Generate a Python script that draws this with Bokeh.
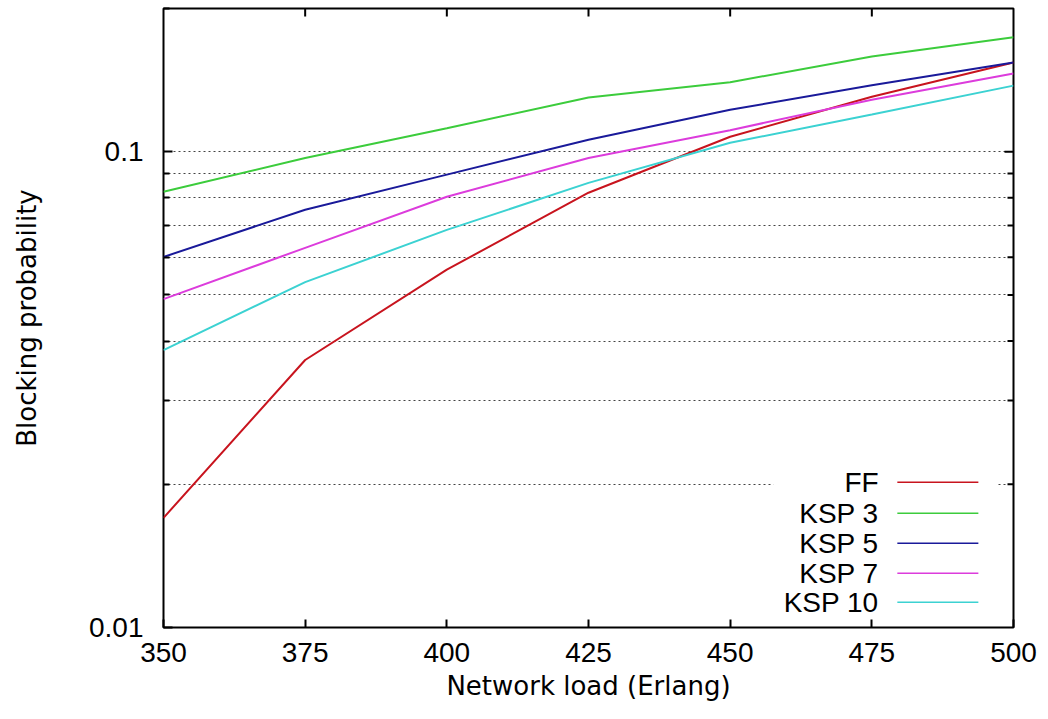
import math
from bokeh.plotting import figure
from bokeh.models import (FixedTicker, BoxAnnotation, Label, Range1d, ColumnDataSource)
from bokeh.embed import file_html
from bokeh.resources import INLINE

# ---- data ----
load = [350, 375, 400, 425, 450, 475, 500]
ff = [0.0170, 0.0365, 0.0565, 0.082, 0.1075, 0.1305, 0.154]
ksp3 = [0.0824, 0.097, 0.112, 0.130, 0.140, 0.1585, 0.174]
ksp5 = [0.0601, 0.0755, 0.0895, 0.106, 0.1225, 0.138, 0.154]
ksp7 = [0.049, 0.0628, 0.0804, 0.097, 0.111, 0.1286, 0.146]
ksp10 = [0.0383, 0.0532, 0.0685, 0.086, 0.1044, 0.1197, 0.1377]

series_names = ["FF", "KSP 3", "KSP 5", "KSP 7", "KSP 10"]
series_values = [ff, ksp3, ksp5, ksp7, ksp10]
series_colors = ["#c8141e", "#3ccc3c", "#1a1a9a", "#dc3cdc", "#3cd2d2"]

x_ticks = [350, 375, 400, 425, 450, 475, 500]
y_major = [0.01, 0.1]
y_minor = [0.02, 0.03, 0.04, 0.05, 0.06, 0.07, 0.08, 0.09, 0.2]
y_grid = [0.02, 0.03, 0.04, 0.05, 0.06, 0.07, 0.08, 0.09, 0.1]

TICK_FONT = "Liberation Sans"
LABEL_FONT = "DejaVu Sans"

W, H = 1048, 719
BL, BR, BT, BB = 163, 35, 8, 92
XMIN, XMAX, YMIN, YMAX = 350, 500, 0.01, 0.2

p = figure(width=W, height=H, x_range=Range1d(XMIN, XMAX), y_range=Range1d(YMIN, YMAX),
           y_axis_type="log", output_backend="svg", toolbar_location=None,
           min_border_left=BL, min_border_right=BR, min_border_top=BT, min_border_bottom=BB)
p.background_fill_color = "white"
p.border_fill_color = "white"
p.outline_line_color = "black"
p.outline_line_width = 2

# grid
p.xgrid.visible = False
p.ygrid.ticker = FixedTicker(ticks=y_grid)
p.ygrid.grid_line_color = "#444444"
p.ygrid.grid_line_dash = "2 3"
p.ygrid.grid_line_width = 1

# bottom axis
xa = p.xaxis[0]
xa.ticker = FixedTicker(ticks=x_ticks)
xa.axis_line_color = None
xa.major_tick_in = 8
xa.major_tick_out = 0
xa.major_tick_line_width = 2
xa.minor_tick_line_color = None
xa.major_label_standoff = 15
xa.major_label_text_font = TICK_FONT
xa.major_label_text_font_size = "28px"
xa.major_label_text_color = "black"
xa.axis_label = "Network load (Erlang)"
xa.axis_label_text_font = LABEL_FONT
xa.axis_label_text_font_size = "26px"
xa.axis_label_text_font_style = "normal"
xa.axis_label_text_color = "black"
xa.axis_label_standoff = 6

# left axis
ya = p.yaxis[0]
ya.ticker = FixedTicker(ticks=y_major, minor_ticks=y_minor)
ya.major_label_overrides = {0.01: "0.01", 0.1: "0.1"}
ya.axis_line_color = None
ya.major_tick_in = 9
ya.major_tick_out = 0
ya.major_tick_line_width = 2
ya.minor_tick_in = 6
ya.minor_tick_out = 0
ya.minor_tick_line_width = 2
ya.major_label_standoff = 20
ya.major_label_text_font = TICK_FONT
ya.major_label_text_font_size = "28px"
ya.major_label_text_color = "black"
ya.axis_label = "Blocking probability"
ya.axis_label_text_font = LABEL_FONT
ya.axis_label_text_font_size = "26px"
ya.axis_label_text_font_style = "normal"
ya.axis_label_text_color = "black"
ya.axis_label_standoff = 44

# mirrored ticks on top and right (derived from the tick lists and frame scale)
frame_w = W - BL - BR
frame_h = H - BT - BB
x_per_px = (XMAX - XMIN) / frame_w
dec_per_px = math.log10(YMAX / YMIN) / frame_h
top_ticks = x_ticks[1:-1]
p.segment(x0=top_ticks, x1=top_ticks, y0=[YMAX] * len(top_ticks),
          y1=[YMAX * 10 ** (-8 * dec_per_px)] * len(top_ticks),
          line_color="black", line_width=2)
r_major = [t for t in y_major if YMIN < t < YMAX]
r_minor = [t for t in y_minor if YMIN < t < YMAX]
p.segment(x0=[XMAX] * len(r_major), x1=[XMAX - 9 * x_per_px] * len(r_major),
          y0=r_major, y1=r_major, line_color="black", line_width=2)
p.segment(x0=[XMAX] * len(r_minor), x1=[XMAX - 6 * x_per_px] * len(r_minor),
          y0=r_minor, y1=r_minor, line_color="black", line_width=2)

# data lines
for name, vals, col in zip(series_names, series_values, series_colors):
    p.line(load, vals, line_color=col, line_width=2)

# legend (gnuplot style: label, then sample line)
legend_box = BoxAnnotation(left=457.6, right=497.2, bottom=0.0105, top=0.0215,
                           fill_color="white", fill_alpha=1.0, line_color=None,
                           level="underlay")
p.add_layout(legend_box)
legend_y = [0.0202, 0.01738, 0.01503, 0.0130, 0.0113]
leg_src = ColumnDataSource(dict(x0=[479.5] * 5, x1=[493.8] * 5, y=legend_y,
                                color=series_colors))
p.segment(x0="x0", y0="y", x1="x1", y1="y", line_color="color", line_width=1.5,
          source=leg_src)
for name, ly in zip(series_names, legend_y):
    p.add_layout(Label(x=476.2, y=ly, text=name, text_align="right",
                       text_baseline="middle", text_font=TICK_FONT,
                       text_font_size="28px", text_color="black"))

open("out.html", "w").write(file_html(p, INLINE))
